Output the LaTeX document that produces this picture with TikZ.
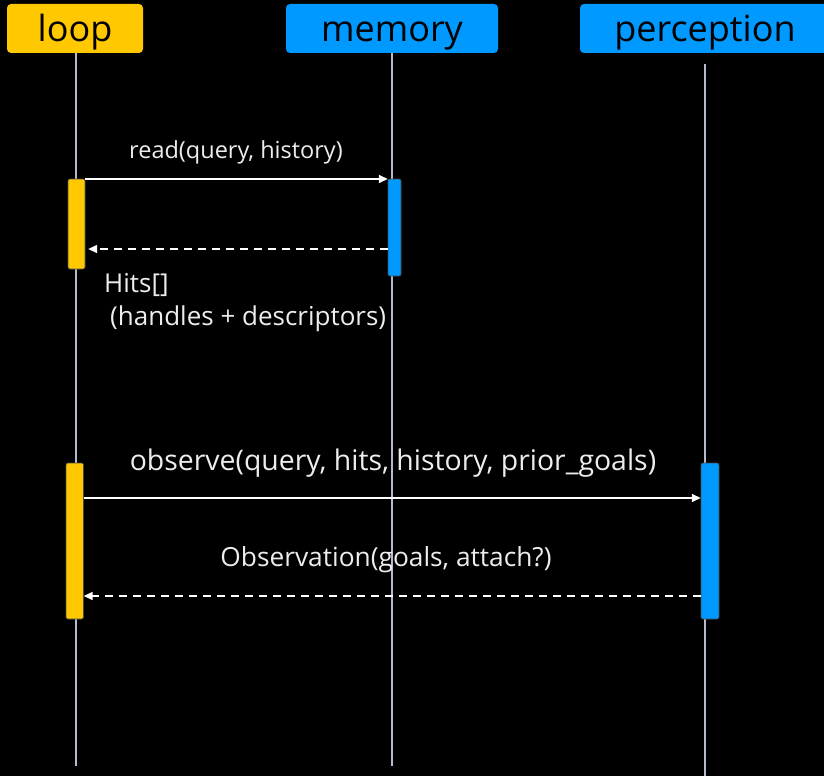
\documentclass[tikz,border=0pt]{standalone}
\usepackage{fontspec}
\setmainfont{Open Sans}
\usetikzlibrary{arrows.meta}
\definecolor{yel}{HTML}{FFC800}
\definecolor{blu}{HTML}{0099FF}
\definecolor{life}{HTML}{B4BCCC}
\definecolor{txt}{HTML}{EDEDED}
\tikzset{
  head/.style={text=black, inner sep=0pt, font=\fontsize{36}{40}\selectfont},
  lifeline/.style={draw=life, line width=1.3pt},
  actbar/.style={draw=black!70!white, rounded corners=2pt, line width=0.6pt},
  msg/.style={draw=white, line width=1.4pt, -{Triangle[length=9pt,width=8pt]}},
  ret/.style={draw=white, line width=1.4pt, dash pattern=on 8pt off 6pt, -{Triangle[length=9pt,width=8pt,fill=white]}},
  lbl/.style={text=txt, inner sep=0pt},
}
\begin{document}
\begin{tikzpicture}[x=1pt,y=-1pt]
\fill[black] (0,0) rectangle (824,776);
\useasboundingbox (0,0) rectangle (824,776);
% lifelines
\coordinate (lt) at (76,53); \coordinate (lb) at (76,766);
\coordinate (mt) at (392,53); \coordinate (mb) at (392,766);
\coordinate (pt) at (705,64); \coordinate (pb) at (705,776);
\draw[lifeline] (lt) -- (lb);
\draw[lifeline] (mt) -- (mb);
\draw[lifeline] (pt) -- (pb);
% headers
\fill[yel, rounded corners=4pt] (7,4) rectangle (143,53);
\fill[blu, rounded corners=4pt] (286,4) rectangle (498,53);
\fill[blu, rounded corners=4pt] (580,4) rectangle (834,53);
\node[head, anchor=base] (loop) at (75,42) {loop};
\node[head, anchor=base] (memory) at (392,42) {memory};
\node[head, anchor=base] (perception) at (705,42) {perception};
% activation bars
\draw[actbar, fill=yel] (68,179) rectangle (85,269);
\node[inner sep=0pt, minimum width=17pt, minimum height=90pt] (a1) at (76.5,224) {};
\draw[actbar, fill=blu] (388,179) rectangle (401,276);
\node[inner sep=0pt, minimum width=13pt, minimum height=97pt] (m1) at (394.5,227.5) {};
\draw[actbar, fill=yel] (66,463) rectangle (83.5,619);
\node[inner sep=0pt, minimum width=17.5pt, minimum height=156pt] (a2) at (74.75,541) {};
\draw[actbar, fill=blu] (701,463) rectangle (719,619);
\node[inner sep=0pt, minimum width=18pt, minimum height=156pt] (p1) at (710,541) {};
% messages
\draw[msg] (a1.east |- 0,179) -- (m1.west |- 0,179);
\draw[ret] (m1.west |- 0,249) -- ([xshift=3pt]a1.east |- 0,249);
\draw[msg] (a2.east |- 0,498) -- (p1.west |- 0,498);
\draw[ret] (p1.west |- 0,596) -- (a2.east |- 0,596);
% labels
\node[lbl, anchor=base, font=\fontsize{23.5}{26}\selectfont] (l1) at (236,158) {read(query, history)};
\node[lbl, anchor=base west, font=\fontsize{26}{30}\selectfont] (l2) at (104,292) {Hits[]};
\node[lbl, anchor=base west, font=\fontsize{26}{30}\selectfont] (l3) at (110,325) {(handles + descriptors)};
\node[lbl, anchor=base, font=\fontsize{28.4}{32}\selectfont] (l4) at (393,470) {observe(query, hits, history, prior\_goals)};
\node[lbl, anchor=base, font=\fontsize{26.3}{30}\selectfont] (l5) at (386,566) {Observation(goals, attach?)};
\end{tikzpicture}
\end{document}
